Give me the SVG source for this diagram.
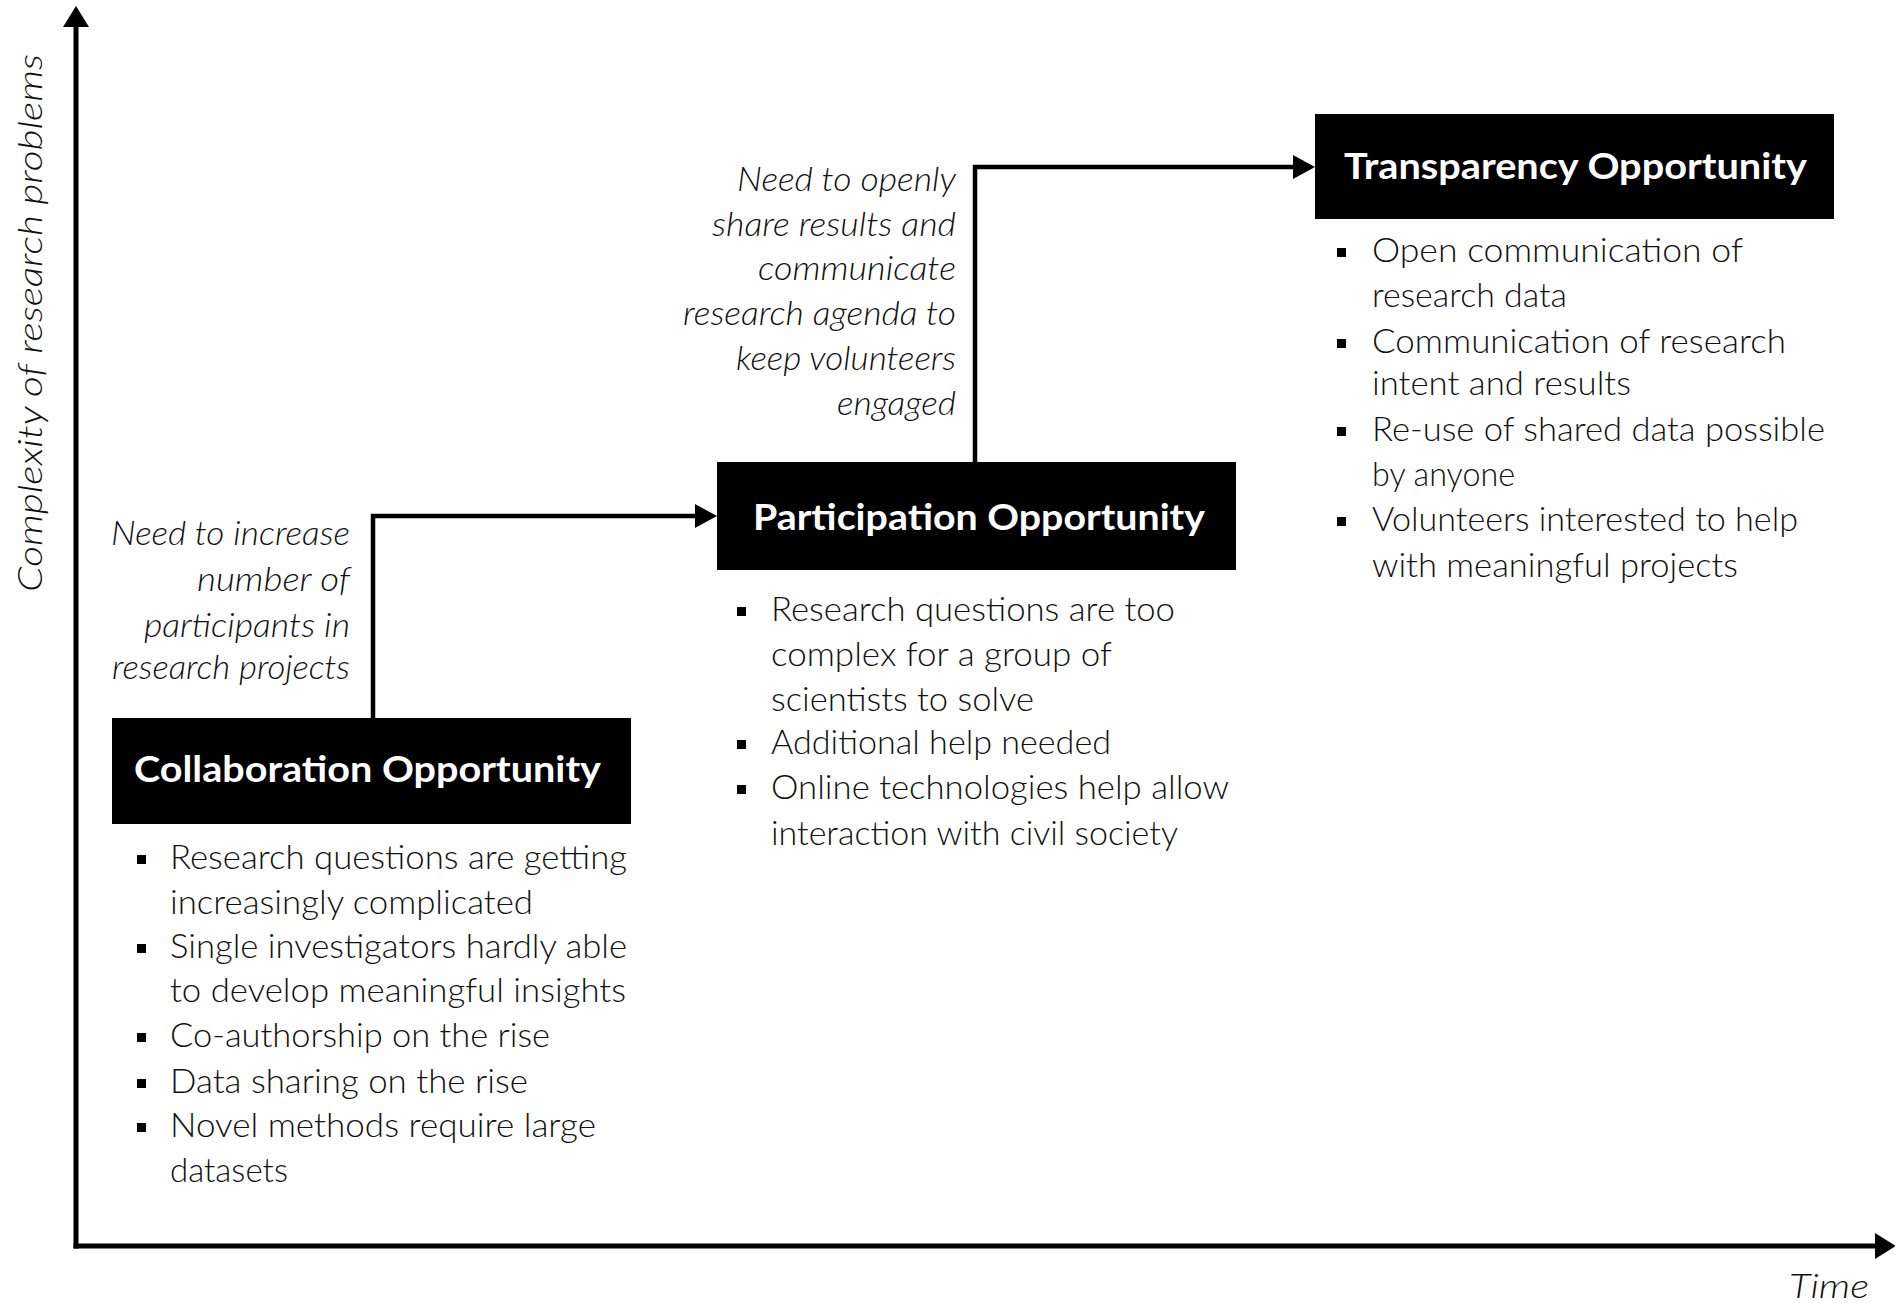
<svg xmlns="http://www.w3.org/2000/svg" width="1895" height="1303" viewBox="0 0 1895 1303">
  <style>
    .axis { stroke: #000; stroke-width: 5; fill: none; }
    .link { stroke: #000; stroke-width: 4.5; fill: none; }
    .box { fill: #000; }
    .title { font-family: Lato, "Open Sans", sans-serif; font-weight: 700; font-size: 37px; fill: #fff; }
    .body { font-family: Lato, "Open Sans", sans-serif; font-weight: 300; font-size: 33px; fill: #111; }
    .note { font-family: Lato, "Open Sans", sans-serif; font-weight: 300; font-style: italic; font-size: 33px; fill: #111; }
    .bullet { fill: #000; }
  </style>
  <defs>
    <marker id="head" viewBox="0 0 22 24" markerWidth="22" markerHeight="24" refX="0" refY="12" orient="auto" markerUnits="userSpaceOnUse">
      <path d="M0,0 L22,12 L0,24 Z" fill="#000"/>
    </marker>
    <marker id="axisHead" viewBox="0 0 21 26" markerWidth="21" markerHeight="26" refX="0" refY="13" orient="auto" markerUnits="userSpaceOnUse">
      <path d="M0,0 L21,13 L0,26 Z" fill="#000"/>
    </marker>
  </defs>

  <!-- axes -->
  <g id="axes">
    <path class="axis" d="M76,1248.5 L76,27" marker-end="url(#axisHead)"/>
    <path class="axis" d="M73.5,1246 L1875,1246" marker-end="url(#axisHead)"/>
    <text class="note" font-size="36" transform="translate(42,323) rotate(-90)" text-anchor="middle" textLength="538" lengthAdjust="spacingAndGlyphs">Complexity of research problems</text>
    <text class="note" x="1789" y="1298" font-size="35" textLength="80" lengthAdjust="spacingAndGlyphs">Time</text>
  </g>

  <!-- connectors between stages -->
  <g id="connectors">
    <path class="link" d="M373,718 L373,516 L695,516" marker-end="url(#head)"/>
    <path class="link" d="M975,462 L975,167 L1293,167" marker-end="url(#head)"/>
  </g>

  <!-- annotation on first step -->
  <g id="note-participants">
    <text class="note" x="111" y="545" textLength="239" lengthAdjust="spacingAndGlyphs">Need to increase</text>
    <text class="note" x="197" y="591" textLength="153" lengthAdjust="spacingAndGlyphs">number of</text>
    <text class="note" x="144" y="637" textLength="206" lengthAdjust="spacingAndGlyphs">participants in</text>
    <text class="note" x="112" y="679" textLength="238" lengthAdjust="spacingAndGlyphs">research projects</text>
  </g>

  <!-- annotation on second step -->
  <g id="note-volunteers">
    <text class="note" x="737" y="191" textLength="219" lengthAdjust="spacingAndGlyphs">Need to openly</text>
    <text class="note" x="712" y="236" textLength="244" lengthAdjust="spacingAndGlyphs">share results and</text>
    <text class="note" x="758" y="280" textLength="198" lengthAdjust="spacingAndGlyphs">communicate</text>
    <text class="note" x="683" y="325" textLength="273" lengthAdjust="spacingAndGlyphs">research agenda to</text>
    <text class="note" x="736" y="370" textLength="220" lengthAdjust="spacingAndGlyphs">keep volunteers</text>
    <text class="note" x="837" y="415" textLength="119" lengthAdjust="spacingAndGlyphs">engaged</text>
  </g>

  <!-- stage 1 -->
  <g id="collaboration">
    <rect class="box" x="112" y="718" width="519" height="106"/>
    <text class="title" x="134" y="782" textLength="467" lengthAdjust="spacingAndGlyphs">Collaboration Opportunity</text>
    <rect class="bullet" x="137" y="855" width="9" height="9"/>
    <text class="body" x="170" y="869" textLength="457" lengthAdjust="spacingAndGlyphs">Research questions  are getting</text>
    <text class="body" x="170" y="914" textLength="363" lengthAdjust="spacingAndGlyphs">increasingly  complicated</text>
    <rect class="bullet" x="137" y="944" width="9" height="9"/>
    <text class="body" x="170" y="958" textLength="457" lengthAdjust="spacingAndGlyphs">Single investigators hardly able</text>
    <text class="body" x="170" y="1002" textLength="456" lengthAdjust="spacingAndGlyphs">to develop meaningful insights</text>
    <rect class="bullet" x="137" y="1033" width="9" height="9"/>
    <text class="body" x="170" y="1047" textLength="380" lengthAdjust="spacingAndGlyphs">Co-authorship on the rise</text>
    <rect class="bullet" x="137" y="1079" width="9" height="9"/>
    <text class="body" x="170" y="1093" textLength="358" lengthAdjust="spacingAndGlyphs">Data sharing on the rise</text>
    <rect class="bullet" x="137" y="1123" width="9" height="9"/>
    <text class="body" x="170" y="1137" textLength="426" lengthAdjust="spacingAndGlyphs">Novel methods require large</text>
    <text class="body" x="170" y="1182" textLength="118" lengthAdjust="spacingAndGlyphs">datasets</text>
  </g>

  <!-- stage 2 -->
  <g id="participation">
    <rect class="box" x="717" y="462" width="519" height="108"/>
    <text class="title" x="753" y="530" textLength="452" lengthAdjust="spacingAndGlyphs">Participation Opportunity</text>
    <rect class="bullet" x="737" y="607" width="9" height="9"/>
    <text class="body" x="771" y="621" textLength="404" lengthAdjust="spacingAndGlyphs">Research questions  are too</text>
    <text class="body" x="771" y="666" textLength="341" lengthAdjust="spacingAndGlyphs">complex for a group of</text>
    <text class="body" x="771" y="711" textLength="263" lengthAdjust="spacingAndGlyphs">scientists to solve</text>
    <rect class="bullet" x="737" y="740" width="9" height="9"/>
    <text class="body" x="771" y="754" textLength="340" lengthAdjust="spacingAndGlyphs">Additional  help needed</text>
    <rect class="bullet" x="737" y="785" width="9" height="9"/>
    <text class="body" x="771" y="799" textLength="458" lengthAdjust="spacingAndGlyphs">Online  technologies help allow</text>
    <text class="body" x="771" y="845" textLength="407" lengthAdjust="spacingAndGlyphs">interaction  with civil society</text>
  </g>

  <!-- stage 3 -->
  <g id="transparency">
    <rect class="box" x="1315" y="114" width="519" height="105"/>
    <text class="title" x="1344" y="179" textLength="463" lengthAdjust="spacingAndGlyphs">Transparency Opportunity</text>
    <rect class="bullet" x="1337" y="248" width="9" height="9"/>
    <text class="body" x="1372" y="262" textLength="371" lengthAdjust="spacingAndGlyphs">Open  communication  of</text>
    <text class="body" x="1372" y="307" textLength="195" lengthAdjust="spacingAndGlyphs">research data</text>
    <rect class="bullet" x="1337" y="339" width="9" height="9"/>
    <text class="body" x="1372" y="353" textLength="414" lengthAdjust="spacingAndGlyphs">Communication of research</text>
    <text class="body" x="1372" y="395" textLength="259" lengthAdjust="spacingAndGlyphs">intent  and  results</text>
    <rect class="bullet" x="1337" y="427" width="9" height="9"/>
    <text class="body" x="1372" y="441" textLength="453" lengthAdjust="spacingAndGlyphs">Re-use of shared data  possible</text>
    <text class="body" x="1372" y="486" textLength="143" lengthAdjust="spacingAndGlyphs">by anyone</text>
    <rect class="bullet" x="1337" y="517" width="9" height="9"/>
    <text class="body" x="1372" y="531" textLength="426" lengthAdjust="spacingAndGlyphs">Volunteers  interested  to help</text>
    <text class="body" x="1372" y="577" textLength="366" lengthAdjust="spacingAndGlyphs">with meaningful  projects</text>
  </g>
</svg>
